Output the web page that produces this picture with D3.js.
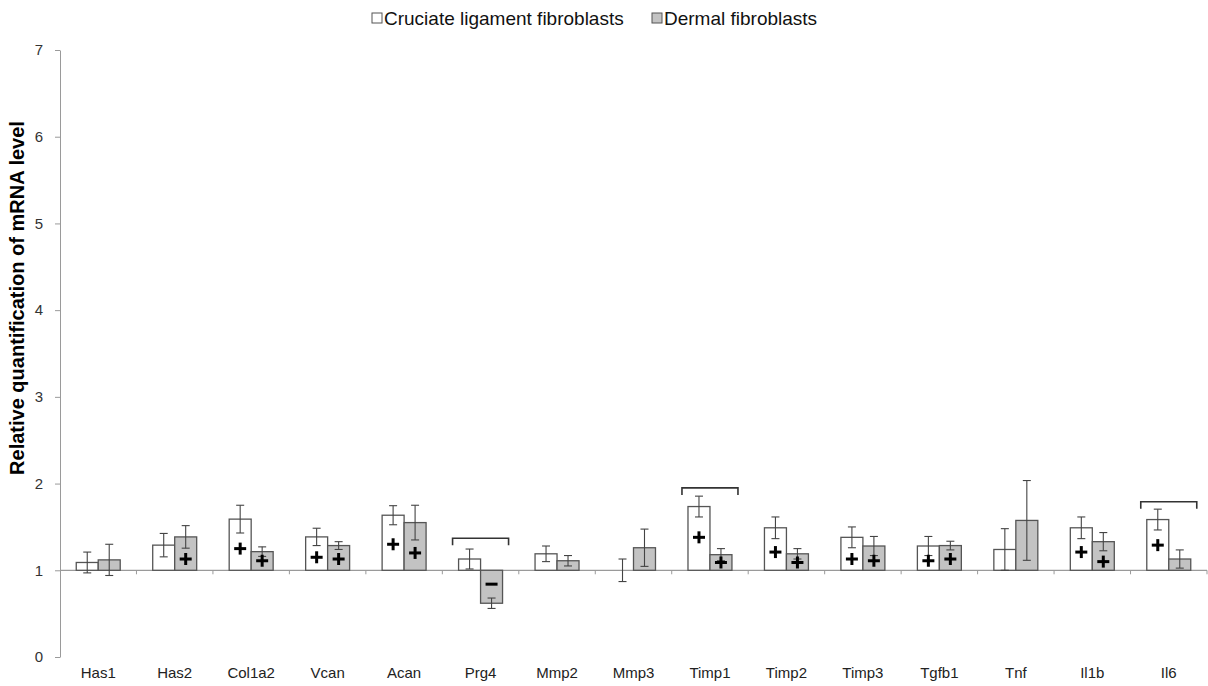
<!DOCTYPE html>
<html>
<head>
<meta charset="utf-8">
<script src="https://cdn.jsdelivr.net/npm/d3@7"></script>
<style>
  body { margin: 0; background: #fff; }
  svg { font-family: Arial, "Liberation Sans", sans-serif; }
</style>
</head>
<body>
<div id="chart"></div>
<script>
const genes = ["Has1", "Has2", "Col1a2", "Vcan", "Acan", "Prg4", "Mmp2", "Mmp3",
  "Timp1", "Timp2", "Timp3", "Tgfb1", "Tnf", "Il1b", "Il6"];
const seriesNames = ["Cruciate ligament fibroblasts", "Dermal fibroblasts"];

const cruciate = [1.09, 1.29, 1.59, 1.385, 1.635, 1.13, 1.19, 1.0, 1.735, 1.49, 1.38, 1.28, 1.24, 1.49, 1.585];
const cruciateErr = [0.12, 0.135, 0.16, 0.10, 0.11, 0.115, 0.09, 0.13, 0.12, 0.125, 0.12, 0.11, 0.24, 0.125, 0.12];
const dermal = [1.12, 1.385, 1.215, 1.285, 1.55, 0.62, 1.11, 1.26, 1.18, 1.19, 1.28, 1.285, 1.575, 1.33, 1.13];
const dermalErr = [0.18, 0.13, 0.055, 0.045, 0.20, 0.06, 0.06, 0.215, 0.07, 0.06, 0.11, 0.05, 0.46, 0.105, 0.105];

// significance signs and where they sit
const cruciateMark = ["", "", "+", "+", "+", "", "", "", "+", "+", "+", "+", "", "+", "+"];
const cruciateMarkY = [0, 0, 1.25, 1.15, 1.30, 0, 0, 0, 1.38, 1.21, 1.13, 1.11, 0, 1.21, 1.29];
const dermalMark = ["", "+", "+", "+", "+", "-", "", "", "+", "+", "+", "+", "", "+", ""];
const dermalMarkY = [0, 1.13, 1.11, 1.13, 1.20, 0.84, 0, 0, 1.09, 1.09, 1.11, 1.13, 0, 1.10, 0];

const bracketGenes = ["Prg4", "Timp1", "Il6"];
const bracketY = [1.37, 1.95, 1.79];

const yTicks = [0, 1, 2, 3, 4, 5, 6, 7];

const W = 1208, H = 686;
const margin = {top: 50, right: 1, bottom: 29, left: 60};

const svg = d3.select("#chart").append("svg")
  .attr("width", W).attr("height", H);

const x0 = d3.scaleBand().domain(genes)
  .range([margin.left, 1207]).paddingInner(0.425).paddingOuter(0.2125);
const x1 = d3.scaleBand().domain([0, 1]).range([0, x0.bandwidth()]);
const y = d3.scaleLinear().domain([0, 7]).range([H - margin.bottom, margin.top]);

// y axis
const yAxis = svg.append("g")
  .attr("transform", "translate(" + margin.left + ",0)")
  .call(d3.axisLeft(y).tickValues(yTicks).tickFormat(d3.format("d"))
    .tickSize(5).tickSizeOuter(0).tickPadding(12));
yAxis.select(".domain").attr("stroke", "#9a9a9a");
yAxis.selectAll(".tick line").attr("stroke", "#9a9a9a");
yAxis.selectAll(".tick text").attr("font-size", 15).attr("fill", "#333")
  .attr("font-family", "Arial, 'Liberation Sans', sans-serif");

svg.append("text")
  .attr("transform", "translate(24,298) rotate(-90)")
  .attr("text-anchor", "middle")
  .attr("font-size", 20).attr("font-weight", "bold")
  .text("Relative quantification of mRNA level");

// baseline at 1
svg.append("line")
  .attr("x1", margin.left).attr("x2", 1207)
  .attr("y1", y(1)).attr("y2", y(1))
  .attr("stroke", "#9a9a9a").attr("stroke-width", 1.2);

// category ticks on baseline
const bounds = genes.map(g => x0(g) - x0.step() * x0.paddingInner() / 2).slice(1)
  .concat([1207]);
svg.append("g").selectAll("line")
  .data(bounds)
  .enter().append("line")
  .attr("x1", d => d).attr("x2", d => d)
  .attr("y1", y(1)).attr("y2", y(1) + 4)
  .attr("stroke", "#9a9a9a");

// x labels
svg.append("g").selectAll("text")
  .data(genes)
  .enter().append("text")
  .attr("x", d => x0(d) + x0.bandwidth() / 2)
  .attr("y", 678)
  .attr("text-anchor", "middle")
  .attr("font-size", 15)
  .attr("fill", "#222")
  .text(d => d);

const rows = genes.map((g, i) => [
  {g: g, s: 0, v: cruciate[i], e: cruciateErr[i], m: cruciateMark[i], my: cruciateMarkY[i]},
  {g: g, s: 1, v: dermal[i], e: dermalErr[i], m: dermalMark[i], my: dermalMarkY[i]}
]).flat();

const fills = ["#ffffff", "#c3c3c3"];

svg.append("g").selectAll("rect")
  .data(rows)
  .enter().append("rect")
  .attr("x", d => x0(d.g) + x1(d.s))
  .attr("width", x1.bandwidth())
  .attr("y", d => Math.min(y(d.v), y(1)))
  .attr("height", d => Math.abs(y(d.v) - y(1)))
  .attr("fill", d => fills[d.s])
  .attr("stroke", "#555")
  .attr("stroke-width", 1.3);

// error bars
const eb = svg.append("g").attr("stroke", "#444").attr("stroke-width", 1.1);
rows.forEach(d => {
  const cx = x0(d.g) + x1(d.s) + x1.bandwidth() / 2;
  eb.append("line").attr("x1", cx).attr("x2", cx)
    .attr("y1", y(d.v + d.e)).attr("y2", y(d.v - d.e));
  [d.v + d.e, d.v - d.e].forEach(v => {
    eb.append("line").attr("x1", cx - 4).attr("x2", cx + 4)
      .attr("y1", y(v)).attr("y2", y(v));
  });
});

// + / - marks
const mk = svg.append("g").attr("stroke", "#000").attr("stroke-width", 3);
rows.filter(d => d.m !== "").forEach(d => {
  const cx = x0(d.g) + x1(d.s) + x1.bandwidth() / 2;
  const cy = y(d.my);
  mk.append("line").attr("x1", cx - 6).attr("x2", cx + 6).attr("y1", cy).attr("y2", cy);
  if (d.m === "+") {
    mk.append("line").attr("x1", cx).attr("x2", cx).attr("y1", cy - 6).attr("y2", cy + 6);
  }
});

// brackets over pairs
const br = svg.append("g").attr("fill", "none").attr("stroke", "#333").attr("stroke-width", 1.6);
bracketGenes.forEach((g, i) => {
  const cx = x0(g) + x0.bandwidth() / 2;
  const by = y(bracketY[i]);
  br.append("path")
    .attr("d", "M" + (cx - 28) + "," + (by + 7) + "V" + by + "H" + (cx + 28) + "V" + (by + 7));
});

// legend
const legend = svg.append("g").attr("transform", "translate(372,18)");
const legX = [0, 280];
seriesNames.forEach((name, i) => {
  legend.append("rect")
    .attr("x", legX[i]).attr("y", -5)
    .attr("width", 10).attr("height", 10)
    .attr("fill", fills[i]).attr("stroke", "#555");
  legend.append("text")
    .attr("x", legX[i] + 12).attr("y", 0)
    .attr("dy", "0.35em")
    .attr("font-size", 19)
    .attr("fill", "#111")
    .text(name);
});
</script>
</body>
</html>
